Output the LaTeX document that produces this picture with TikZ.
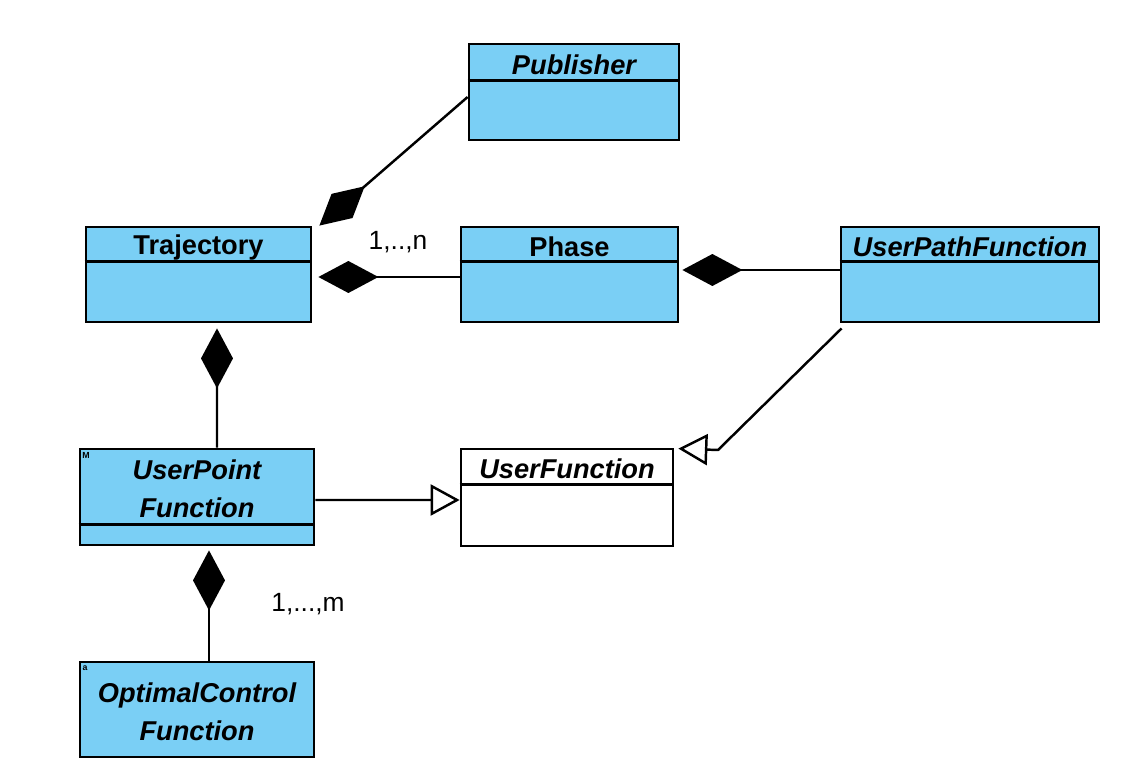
\documentclass[tikz,border=0pt]{standalone}
\usepackage{fontspec}
\setmainfont{Liberation Sans}
\usetikzlibrary{arrows.meta}
\definecolor{classblue}{RGB}{122,207,245}
\tikzset{comp/.style = {-{Diamond[length=1.2cm,width=0.64cm]}, line width=1.4pt}}
\tikzset{gen/.style = {-{Triangle[open,length=0.58cm,width=0.62cm]}, line width=1.4pt}}
\tikzset{divider/.style = {line width=1.6pt}}

\begin{document}
\begin{tikzpicture}[x=0.02cm,y=-0.02cm,
    classbox/.style={draw, line width=1.6pt, fill=classblue, inner sep=0,
        minimum height=1.9cm},
    classname/.style={font={\fontsize{15.5}{21.5}\selectfont\bfseries\itshape},
        align=center},
    plainname/.style={font={\fontsize{15.5}{21.5}\selectfont\bfseries}},
    mult/.style={font={\fontsize{15}{17}\selectfont}},
    marker/.style={font={\fontsize{5}{5}\selectfont\bfseries}, inner sep=0},
    ]
    \useasboundingbox (0,0) rectangle (1122,780);

    % Classes
    \node[classbox, minimum width=4.2cm, minimum height=1.92cm] (pub) at (574,92) {};
    \node[classbox, minimum width=4.5cm] (traj) at (198.5,274.5) {};
    \node[classbox, minimum width=4.34cm] (phase) at (569.5,274.5) {};
    \node[classbox, minimum width=5.16cm] (upf) at (970,274.5) {};
    \node[classbox, minimum width=4.68cm, minimum height=1.92cm] (upt) at (197,497) {};
    \node[classbox, fill=white, minimum width=4.24cm, minimum height=1.94cm] (ufn) at (567,497.5) {};
    \node[classbox, minimum width=4.68cm] (ocf) at (197,709.5) {};

    % Compartments
    \draw[divider] ([yshift=-0.76cm]pub.north west) -- ([yshift=-0.76cm]pub.north east);
    \draw[divider] ([yshift=-0.72cm]traj.north west) -- ([yshift=-0.72cm]traj.north east);
    \draw[divider] ([yshift=-0.72cm]phase.north west) -- ([yshift=-0.72cm]phase.north east);
    \draw[divider] ([yshift=-0.72cm]upf.north west) -- ([yshift=-0.72cm]upf.north east);
    \draw[divider] ([yshift=0.44cm]upt.south west) -- ([yshift=0.44cm]upt.south east);
    \draw[divider] ([yshift=-0.74cm]ufn.north west) -- ([yshift=-0.74cm]ufn.north east);

    % Class names
    \node[classname] (pubname) at (574,65) {Publisher};
    \node[plainname] (trajname) at (198.5,247) {Trajectory};
    \node[plainname] (phasename) at (569.5,247) {Phase};
    \node[classname] (upfname) at (970,247) {UserPathFunction};
    \node[classname] (uptname) at (197,489) {UserPoint\\Function};
    \node[classname] (ufnname) at (567,469) {UserFunction};
    \node[classname] (ocfname) at (197,712) {OptimalControl\\Function};

    % Stereotype marks
    \node[marker] (uptmark) at (86,455) {M};
    \node[marker] (ocfmark) at (85,668) {a};

    % Compositions
    \draw[comp] ([yshift=-0.1cm]pub.west) -- ([xshift=0.14cm]traj.north east);
    \draw[comp] ([yshift=-0.05cm]phase.west) -- ([xshift=0.12cm,yshift=-0.05cm]traj.east);
    \draw[comp] ([yshift=0.09cm]upf.west) -- ([xshift=0.06cm,yshift=0.09cm]phase.east);
    \draw[comp] ([xshift=0.4cm]upt.north) -- ([xshift=0.37cm,yshift=-0.1cm]traj.south);
    \draw[comp] ([xshift=0.24cm]ocf.north) -- ([xshift=0.24cm,yshift=-0.08cm]upt.south);

    % Multiplicities
    \node[mult] (nmult) at (398,242) {1,..,n};
    \node[mult] (mmult) at (308,604) {1,...,m};

    % Generalizations
    \coordinate (bend) at (718,450);
    \draw[gen] ([yshift=-0.06cm]upt.east) -- ([yshift=-0.05cm]ufn.west);
    \draw[gen] ([shift={(0.04cm,-0.1cm)}]upf.south west) -- (bend) -- ([xshift=0.08cm,yshift=-0.02cm]ufn.north east);

\end{tikzpicture}
\end{document}
